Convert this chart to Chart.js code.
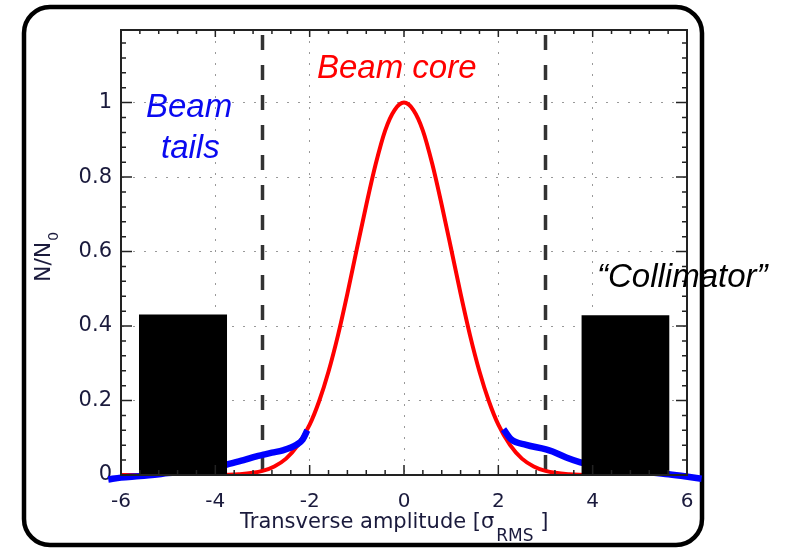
<!DOCTYPE html>
<html>
<head>
<meta charset="utf-8">
<script src="https://cdn.jsdelivr.net/npm/chart.js@4/dist/chart.umd.min.js"></script>
<style>
  html, body { margin: 0; padding: 0; background: #fff; }
  canvas { display: block; }
</style>
</head>
<body>
<canvas id="myChart" width="785" height="548"></canvas>
<script>
// axis ticks
var xTickValues = [-6, -4, -2, 0, 2, 4, 6];
var yTickValues = [0, 0.2, 0.4, 0.6, 0.8, 1];

// beam core (red)
var coreX = [-6, -4, -3.5, -3, -2.75, -2.5, -2.25, -2, -1.8, -1.6, -1.4, -1.2, -1, -0.8, -0.6, -0.4, -0.2, 0,
             0.2, 0.4, 0.6, 0.8, 1, 1.2, 1.4, 1.6, 1.8, 2, 2.25, 2.5, 2.75, 3, 3.5, 4, 6];
var coreY = [0, 0, 0.002, 0.011, 0.023, 0.044, 0.08, 0.135, 0.198, 0.278, 0.375, 0.487, 0.607, 0.725, 0.835, 0.925, 0.98, 1,
             0.98, 0.925, 0.835, 0.725, 0.607, 0.487, 0.375, 0.278, 0.198, 0.135, 0.08, 0.044, 0.023, 0.011, 0.002, 0, 0];

// beam tails (blue)
var tailLeftX = [-6.27, -6, -5.6, -5, -4.5, -4, -3.76, -3.4, -3.13, -3.0, -2.8, -2.57, -2.28, -2.15, -2.05];
var tailLeftY = [-0.012, -0.007, -0.003, 0.005, 0.012, 0.02, 0.028, 0.04, 0.05, 0.054, 0.06, 0.066, 0.081, 0.095, 0.12];
var tailRightX = [2.11, 2.27, 2.59, 3.01, 3.15, 3.44, 3.74, 4, 4.5, 5, 5.61, 5.98, 6.31];
var tailRightY = [0.123, 0.096, 0.081, 0.069, 0.063, 0.047, 0.034, 0.027, 0.017, 0.01, 0.002, -0.004, -0.01];

// collimator jaws
var jawLeftX = [-5.62, -3.75];
var jawRightX = [3.76, 5.63];
var jawHeight = [0.431, 0.429];

// aperture (dashed)
var apertureX = [-3, 3];
var yMax = 1.195;

function pts(xs, ys) {
    return xs.map(function (x, i) { return { x: x, y: ys[i] }; });
}
function jaw(xs, h) {
    return [{ x: xs[0], y: 0 }, { x: xs[0], y: h }, { x: xs[1], y: h }, { x: xs[1], y: 0 }];
}

var tickFont = "'DejaVu Sans', sans-serif";
var tickColor = '#1a1a3c';

var framePlugin = {
    id: 'frame',
    beforeDraw: function (chart) {
        var ctx = chart.ctx;
        ctx.save();
        ctx.fillStyle = '#fff';
        ctx.fillRect(0, 0, chart.width, chart.height);
        ctx.beginPath();
        ctx.roundRect(24, 7, 678, 538, 26);
        ctx.lineWidth = 4.5;
        ctx.strokeStyle = '#000';
        ctx.stroke();
        ctx.restore();
    },
    afterDraw: function (chart) {
        var ctx = chart.ctx;
        var a = chart.chartArea;
        var xs = chart.scales.x, ys = chart.scales.y;
        ctx.save();
        // top and right border
        ctx.strokeStyle = '#222';
        ctx.lineWidth = 2;
        ctx.strokeRect(a.left, a.top, a.right - a.left, a.bottom - a.top);
        // inward ticks
        ctx.lineWidth = 1.5;
        ctx.beginPath();
        var v, px, len;
        for (v = -6; v <= 6.001; v += 0.4) {
            px = xs.getPixelForValue(v);
            len = Math.abs(v / 2 - Math.round(v / 2)) < 0.01 ? 10 : 5;
            ctx.moveTo(px, a.bottom); ctx.lineTo(px, a.bottom - len);
            ctx.moveTo(px, a.top); ctx.lineTo(px, a.top + (len > 5 ? 7 : 4));
        }
        for (v = 0; v <= yMax; v += 0.04) {
            px = ys.getPixelForValue(v);
            len = Math.abs(v / 0.2 - Math.round(v / 0.2)) < 0.01 ? 11 : 5;
            ctx.moveTo(a.left, px); ctx.lineTo(a.left + len, px);
            ctx.moveTo(a.right, px); ctx.lineTo(a.right - len, px);
        }
        ctx.stroke();

        // annotations
        ctx.font = "italic 33px 'Liberation Sans', Arial, sans-serif";
        ctx.textBaseline = 'alphabetic';
        ctx.textAlign = 'left';
        ctx.fillStyle = '#ff0000';
        ctx.fillText('Beam core', 317, 78);
        ctx.fillStyle = '#0a0af0';
        ctx.fillText('Beam', 146, 117);
        ctx.fillText('tails', 161, 158);
        ctx.fillStyle = '#000';
        ctx.fillText('\u201CCollimator\u201D', 597, 287);

        // x axis title
        ctx.fillStyle = tickColor;
        var f1 = "21px " + tickFont, f2 = "17px " + tickFont;
        var t1 = 'Transverse amplitude [\u03C3', t2 = 'RMS', t3 = ' ]';
        ctx.font = f1; var w1 = ctx.measureText(t1).width, w3 = ctx.measureText(t3).width;
        ctx.font = f2; var w2 = ctx.measureText(t2).width;
        var x0 = 240;
        ctx.font = f1; ctx.fillText(t1, x0, 528);
        ctx.font = f2; ctx.fillText(t2, x0 + w1 + 2, 541);
        ctx.font = f1; ctx.fillText(t3, x0 + w1 + w2 + 2, 528);

        // y axis title
        ctx.translate(50, 282);
        ctx.rotate(-Math.PI / 2);
        ctx.font = "22px " + tickFont;
        ctx.fillText('N/N', 0, 0);
        var wn = ctx.measureText('N/N').width;
        ctx.font = "14px " + tickFont;
        ctx.fillText('0', wn + 1, 8);
        ctx.restore();
    }
};

new Chart('myChart', {
    type: 'line',
    data: {
        datasets: [
            {
                data: jaw(jawLeftX, jawHeight[0]),
                borderWidth: 0, borderColor: '#000', backgroundColor: '#000',
                fill: 'origin', pointRadius: 0, tension: 0, order: 0
            },
            {
                data: jaw(jawRightX, jawHeight[1]),
                borderWidth: 0, borderColor: '#000', backgroundColor: '#000',
                fill: 'origin', pointRadius: 0, tension: 0, order: 0
            },
            {
                data: pts(tailLeftX, tailLeftY),
                borderColor: '#0000ff', borderWidth: 6.5, pointRadius: 0,
                cubicInterpolationMode: 'monotone', fill: false, clip: false, order: 1
            },
            {
                data: pts(tailRightX, tailRightY),
                borderColor: '#0000ff', borderWidth: 6.5, pointRadius: 0,
                cubicInterpolationMode: 'monotone', fill: false, clip: false, order: 1
            },
            {
                data: pts(coreX, coreY),
                borderColor: '#ff0000', borderWidth: 4, pointRadius: 0,
                cubicInterpolationMode: 'monotone', fill: false, order: 2
            },
            {
                data: [{ x: apertureX[0], y: yMax }, { x: apertureX[0], y: 0 }],
                borderColor: '#333', borderWidth: 3.5, borderDash: [15, 15], borderDashOffset: 25,
                pointRadius: 0, fill: false, order: 3
            },
            {
                data: [{ x: apertureX[1], y: yMax }, { x: apertureX[1], y: 0 }],
                borderColor: '#333', borderWidth: 3.5, borderDash: [15, 15], borderDashOffset: 25,
                pointRadius: 0, fill: false, order: 3
            }
        ]
    },
    options: {
        responsive: false,
        animation: false,
        events: [],
        layout: { padding: { left: 0, top: 30, right: 98, bottom: 0 } },
        plugins: { legend: { display: false }, tooltip: { enabled: false } },
        scales: {
            x: {
                type: 'linear', min: -6, max: 6,
                afterBuildTicks: function (s) { s.ticks = xTickValues.map(function (v) { return { value: v }; }); },
                afterFit: function (s) { s.height = 73; },
                grid: { color: '#999', lineWidth: 1, drawTicks: false },
                border: { color: '#222', width: 2, dash: [2, 9] },
                ticks: { color: tickColor, font: { family: tickFont, size: 20 }, padding: 15, maxRotation: 0 }
            },
            y: {
                min: 0, max: yMax,
                afterBuildTicks: function (s) { s.ticks = yTickValues.map(function (v) { return { value: v }; }); },
                afterFit: function (s) { s.width = 121; },
                grid: { color: '#999', lineWidth: 1, drawTicks: false },
                border: { color: '#222', width: 2, dash: [2, 9] },
                ticks: {
                    color: tickColor, font: { family: tickFont, size: 21 }, padding: 9,
                    callback: function (v) { return String(+v.toFixed(1)); }
                }
            }
        }
    },
    plugins: [framePlugin]
});
</script>
</body>
</html>
